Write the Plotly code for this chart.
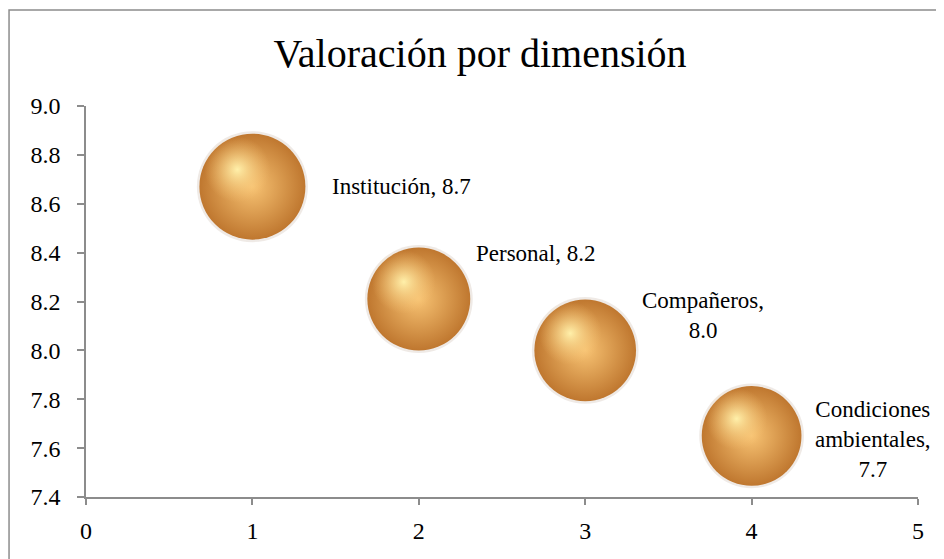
import plotly.graph_objects as go

categories = ["Institución", "Personal", "Compañeros", "Condiciones ambientales"]
x_vals = [1, 2, 3, 4]
y_vals = [8.67, 8.21, 8.0, 7.65]
bubble_sizes = [8.7, 8.2, 8.0, 7.7]
label_texts = ["Institución, 8.7", "Personal, 8.2", "Compañeros,<br>8.0", "Condiciones<br>ambientales,<br>7.7"]
x_ticks = [0, 1, 2, 3, 4, 5]
y_ticks = [7.4, 7.6, 7.8, 8.0, 8.2, 8.4, 8.6, 8.8, 9.0]

FONT = "Liberation Serif"
X_RANGE = [0, 5]
Y_RANGE = [7.4, 9.0]
px_sizes = [(s / max(bubble_sizes)) ** 0.5 * 106 for s in bubble_sizes]

fig = go.Figure()
# soft shadow ring
fig.add_trace(go.Scatter(
    x=x_vals, y=y_vals, mode="markers",
    marker=dict(size=[p + 5 for p in px_sizes], color="rgba(120,85,50,0.12)", opacity=1,
                line=dict(width=0)),
    hoverinfo="skip", showlegend=False))
# sphere body
fig.add_trace(go.Scatter(
    x=x_vals, y=y_vals, mode="markers",
    marker=dict(size=px_sizes, color="#BF772F", opacity=1,
                gradient=dict(type="radial", color="#F7C272"),
                line=dict(width=0)),
    text=categories, showlegend=False))
# highlight (axes offset up-left)
fig.add_trace(go.Scatter(
    x=x_vals, y=y_vals, mode="markers", xaxis="x2", yaxis="y2",
    marker=dict(size=[p * 0.62 for p in px_sizes], color="rgba(247,194,114,0)", opacity=1,
                gradient=dict(type="radial", color="rgba(255,240,170,1)"),
                line=dict(width=0)),
    hoverinfo="skip", showlegend=False))

shifts = [(78, 0, "left"), (55, 46, "left"), (118, 35, "center"), (121, -4, "center")]
for xv, yv, t, (dx, dy, anc) in zip(x_vals, y_vals, label_texts, shifts):
    fig.add_annotation(x=xv, y=yv, text=t, showarrow=False, xshift=dx, yshift=dy,
                       xanchor=anc, align="center",
                       font=dict(family=FONT, size=23, color="#000000"))

# outer chart border
fig.add_shape(type="rect", xref="paper", yref="paper", x0=-0.0925, x1=1.2, y0=-0.3, y1=1.2455,
              line=dict(color="#8C8C8C", width=1.5), fillcolor="rgba(0,0,0,0)", layer="below")

hidden = dict(visible=False, showgrid=False, zeroline=False, fixedrange=True)
fig.update_layout(
    width=944, height=559,
    margin=dict(l=78, r=34, t=98, b=70),
    paper_bgcolor="white", plot_bgcolor="white",
    title=dict(text="Valoración por dimensión", x=0.5, xanchor="center", y=0.92, yanchor="middle",
               xref="container",
               font=dict(family=FONT, size=40, color="#000000")),
    xaxis=dict(range=X_RANGE, tickvals=x_ticks, ticktext=[str(v) for v in x_ticks],
               showgrid=False, zeroline=False, showline=True, linecolor="#8C8C8C", linewidth=1.5,
               ticks="outside", ticklen=6, tickcolor="#8C8C8C", tickwidth=1.5,
               ticklabelstandoff=5,
               tickfont=dict(family=FONT, size=24, color="#000000")),
    yaxis=dict(range=Y_RANGE, tickvals=y_ticks, ticktext=[f"{v:.1f}" for v in y_ticks],
               showgrid=False, zeroline=False, showline=True, linecolor="#8C8C8C", linewidth=1.5,
               ticks="outside", ticklen=7, tickcolor="#8C8C8C", tickwidth=1.5,
               ticklabelstandoff=12,
               tickfont=dict(family=FONT, size=24, color="#000000")),
    xaxis2=dict(overlaying="x", range=[X_RANGE[0] + 0.09, X_RANGE[1] + 0.09], **hidden),
    yaxis2=dict(overlaying="y", range=[Y_RANGE[0] - 0.07, Y_RANGE[1] - 0.07], **hidden),
)

fig.write_html("out.html")
